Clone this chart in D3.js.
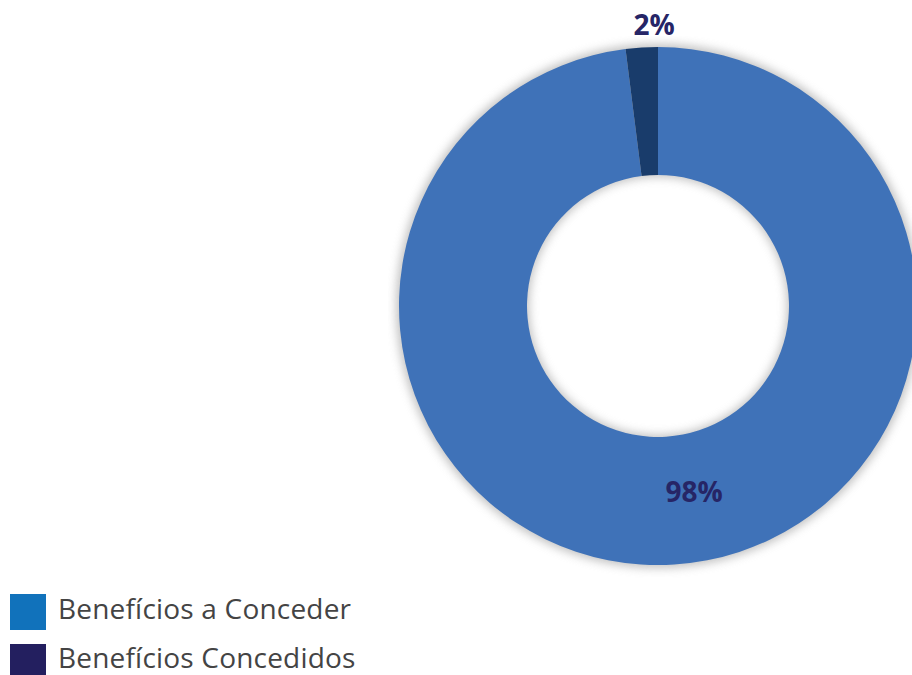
<!DOCTYPE html>
<html>
<head>
    <meta charset="utf-8">
    <title>Benefícios</title>
    <script src="https://cdn.jsdelivr.net/npm/d3@7"></script>
    <style>
        body { margin: 0; background: #fff; }
        .legend text { font-family: "Open Sans", sans-serif; font-size: 28px; letter-spacing: 0.2px; fill: #444; }
        .label { font-family: "Open Sans", sans-serif; font-size: 28px; font-weight: bold; fill: #262566; }
    </style>
</head>
<body>
<div id="chart"></div>
<script>
    const categories = ["Benefícios a Conceder", "Benefícios Concedidos"];
    const values = [98, 2];
    const labels = ["98%", "2%"];
    const sliceColors = ["#3f72b8", "#193c6b"];
    const legendColors = ["#1172bb", "#231f5f"];

    const W = 912, H = 675;
    const cx = 658, cy = 306, outerR = 259, innerR = 131;

    const svg = d3.select("#chart").append("svg")
        .attr("width", W).attr("height", H);

    const defs = svg.append("defs");
    defs.append("filter").attr("id", "blur")
        .attr("x", "-20%").attr("y", "-20%").attr("width", "140%").attr("height", "140%")
        .append("feGaussianBlur").attr("stdDeviation", 5);
    defs.append("clipPath").attr("id", "box")
        .append("rect").attr("x", 388).attr("y", 36).attr("width", W - 388).attr("height", H - 36);

    const pie = d3.pie().sort(null).value(d => d);
    const arcs = pie(values);
    const arc = d3.arc().innerRadius(innerR).outerRadius(outerR);

    // soft shadow behind the ring
    svg.append("g").attr("clip-path", "url(#box)")
        .append("g").attr("transform", `translate(${cx},${cy})`)
        .append("path")
        .attr("d", d3.arc().innerRadius(innerR - 2).outerRadius(outerR + 3).startAngle(0).endAngle(2 * Math.PI)())
        .attr("fill", "#999")
        .attr("opacity", 0.6)
        .attr("filter", "url(#blur)");

    const g = svg.append("g").attr("transform", `translate(${cx},${cy})`);
    g.selectAll("path.slice").data(arcs).join("path")
        .attr("class", "slice")
        .attr("d", arc)
        .attr("fill", (d, i) => sliceColors[i]);

    // labels: big share inside the ring, small one above it
    g.selectAll("text.label").data(arcs).join("text")
        .attr("class", "label")
        .attr("text-anchor", "middle")
        .attr("x", (d, i) => i === 0 ? 36 : -4)
        .attr("y", (d, i) => i === 0 ? 196 : -outerR - 12)
        .text((d, i) => labels[i]);

    // legend
    const legend = svg.append("g").attr("class", "legend")
        .attr("transform", "translate(10,594)");
    const item = legend.selectAll("g").data(categories).join("g")
        .attr("transform", (d, i) => `translate(0,${i * 50})`);
    item.append("rect")
        .attr("width", 36).attr("height", 36)
        .attr("fill", (d, i) => legendColors[i]);
    item.append("text")
        .attr("x", 48).attr("y", (d, i) => i === 0 ? 25 : 24)
        .text(d => d);
</script>
</body>
</html>
